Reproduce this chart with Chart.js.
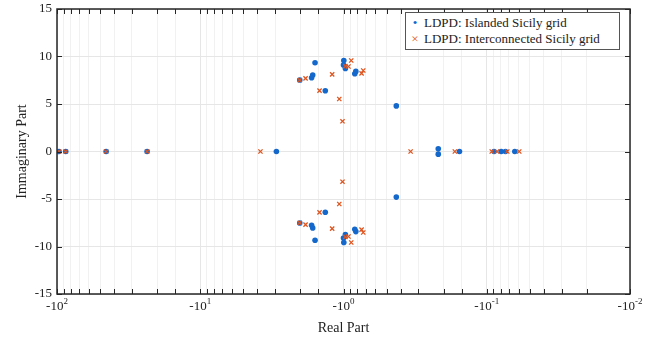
<!DOCTYPE html>
<html>
<head>
<meta charset="utf-8">
<script src="https://cdn.jsdelivr.net/npm/chart.js@4/dist/chart.umd.min.js"></script>
<style>
  body { margin: 0; background: #fff; }
  #wrap { position: relative; width: 660px; height: 337px; }
  #legend {
    position: absolute; left: 405px; top: 12px; width: 213px;
    border: 1px solid #555; background: #fff;
    font-family: "Liberation Serif", serif; font-size: 13px; color: #222;
    padding: 2px 0 2px 0; line-height: 16px;
  }
  #legend div { white-space: nowrap; }
  #legend span.m { display: inline-block; width: 18px; text-align: center; }
</style>
</head>
<body>
<div id="wrap">
  <canvas id="c" width="660" height="337"></canvas>
  <div id="legend"></div>
</div>
<script>
// poles (real part, imaginary part)
const islandedRe = [-96.8, -86.9, -45.4, -23.5, -2.94,
  -2.02, -2.02, -1.67, -1.67, -1.64, -1.64, -1.58, -1.58, -1.34, -1.34,
  -0.995, -0.995, -1.0, -1.0, -0.97, -0.97, -0.834, -0.834, -0.82, -0.82,
  -0.428, -0.428, -0.218, -0.218, -0.155, -0.0889, -0.0793, -0.074, -0.0637];
const islandedIm = [0, 0, 0, 0, 0,
  7.52, -7.52, 7.76, -7.76, 8.05, -8.05, 9.34, -9.34, 6.4, -6.4,
  9.58, -9.58, 9.1, -9.1, 8.74, -8.74, 8.18, -8.18, 8.43, -8.43,
  4.8, -4.8, 0.28, -0.28, 0, 0, 0, 0, 0];

const interRe = [-96.8, -86.9, -45.4, -23.5, -3.8,
  -2.02, -2.02, -1.84, -1.84, -1.47, -1.47, -1.2, -1.2, -1.07, -1.07,
  -1.016, -1.016, -0.883, -0.883, -0.97, -0.97, -0.923, -0.923,
  -0.748, -0.748, -0.728, -0.728,
  -0.34, -0.167, -0.0923, -0.0848, -0.0719, -0.0593];
const interIm = [0, 0, 0, 0, 0,
  7.52, -7.52, 7.69, -7.69, 6.4, -6.4, 8.11, -8.11, 5.53, -5.53,
  3.18, -3.18, 9.58, -9.58, 8.99, -8.99, 8.95, -8.95,
  8.22, -8.22, 8.53, -8.53,
  0, 0, 0, 0, 0, 0];

const seriesNames = ['LDPD: Islanded Sicily grid', 'LDPD: Interconnected Sicily grid'];
const yTicks = [-15, -10, -5, 0, 5, 10, 15];
const xDecades = [2, 1, 0, -1, -2];

const blue = '#1468cc';
const orange = '#dd5520';
const font = '"Liberation Serif", "Times New Roman", serif';

// x axis shows -|re| on a log scale, so plot |re| on a reversed log axis
function toPoints(re, im) {
  return re.map((r, i) => ({ x: -r, y: im[i] }));
}

function isDecade(v) {
  const l = Math.log10(v);
  return Math.abs(l - Math.round(l)) < 1e-6;
}

const framePlugin = {
  id: 'frame',
  afterDraw(chart) {
    const ctx = chart.ctx;
    const a = chart.chartArea;
    const xs = chart.scales.x;
    const ys = chart.scales.y;
    ctx.save();
    ctx.strokeStyle = '#262626';
    ctx.lineWidth = 1;
    // inward ticks
    ctx.beginPath();
    xs.ticks.forEach(t => {
      const px = Math.round(xs.getPixelForValue(t.value)) + 0.5;
      ctx.moveTo(px, a.bottom); ctx.lineTo(px, a.bottom - 5);
      ctx.moveTo(px, a.top); ctx.lineTo(px, a.top + 5);
    });
    yTicks.forEach(v => {
      const py = Math.round(ys.getPixelForValue(v)) + 0.5;
      ctx.moveTo(a.left, py); ctx.lineTo(a.left + 5, py);
      ctx.moveTo(a.right, py); ctx.lineTo(a.right - 5, py);
    });
    ctx.stroke();
    ctx.lineWidth = 1.5;
    ctx.strokeRect(Math.round(a.left), Math.round(a.top),
      Math.round(a.right - a.left), Math.round(a.bottom - a.top));
    // x tick labels -10^k
    ctx.fillStyle = '#222';
    ctx.textBaseline = 'alphabetic';
    xDecades.forEach(k => {
      const px = xs.getPixelForValue(Math.pow(10, k));
      ctx.font = '13px ' + font;
      const base = '-10';
      const exp = String(k);
      const wb = ctx.measureText(base).width;
      ctx.font = '9px ' + font;
      const we = ctx.measureText(exp).width;
      const x0 = px - (wb + we) / 2;
      ctx.font = '13px ' + font;
      ctx.textAlign = 'left';
      ctx.fillText(base, x0, a.bottom + 16);
      ctx.font = '9px ' + font;
      ctx.fillText(exp, x0 + wb, a.bottom + 10);
    });
    ctx.restore();
  }
};

const chart = new Chart(document.getElementById('c'), {
  type: 'scatter',
  data: {
    datasets: [
      {
        label: seriesNames[0],
        data: toPoints(islandedRe, islandedIm),
        order: 1,
        pointStyle: 'circle',
        pointRadius: 2.8,
        backgroundColor: blue,
        borderColor: blue,
        borderWidth: 0
      },
      {
        label: seriesNames[1],
        data: toPoints(interRe, interIm),
        order: 0,
        pointStyle: 'crossRot',
        pointRadius: 3,
        borderColor: orange,
        backgroundColor: orange,
        borderWidth: 1.3
      }
    ]
  },
  options: {
    responsive: false,
    animation: false,
    layout: { padding: { top: 9, right: 30, left: 0, bottom: 0 } },
    plugins: {
      legend: { display: false },
      tooltip: { enabled: false }
    },
    scales: {
      x: {
        type: 'logarithmic',
        reverse: true,
        min: 0.01,
        max: 100,
        afterFit: s => { s.height = 43; s.paddingLeft = 0; s.paddingRight = 0; },
        border: { display: false },
        grid: {
          drawTicks: false,
          color: ctx => (ctx.tick && isDecade(ctx.tick.value)) ? '#e6e6e6' : '#f1f1f1',
          lineWidth: 1
        },
        ticks: {
          autoSkip: false,
          maxRotation: 0,
          callback: () => ''
        },
        title: {
          display: true,
          text: 'Real Part',
          font: { family: font, size: 14 },
          color: '#222',
          padding: { top: 18, bottom: 0 }
        }
      },
      y: {
        min: -15,
        max: 15,
        afterFit: s => { s.width = 57; s.paddingTop = 0; s.paddingBottom = 0; },
        afterBuildTicks: s => { s.ticks = yTicks.map(v => ({ value: v })); },
        border: { display: false },
        grid: { drawTicks: false, color: '#e6e6e6' },
        ticks: {
          font: { family: font, size: 13 },
          color: '#222',
          padding: 5
        },
        title: {
          display: true,
          text: 'Immaginary Part',
          font: { family: font, size: 14 },
          color: '#222',
          padding: { top: 14, bottom: 4 }
        }
      }
    }
  },
  plugins: [framePlugin]
});

// legend box built from the datasets
const legend = document.getElementById('legend');
chart.data.datasets.forEach(ds => {
  const row = document.createElement('div');
  const m = document.createElement('span');
  m.className = 'm';
  m.style.color = ds.borderColor;
  m.textContent = ds.pointStyle === 'circle' ? '\u2022' : '\u00d7';
  row.appendChild(m);
  row.appendChild(document.createTextNode(ds.label));
  legend.appendChild(row);
});
</script>
</body>
</html>
